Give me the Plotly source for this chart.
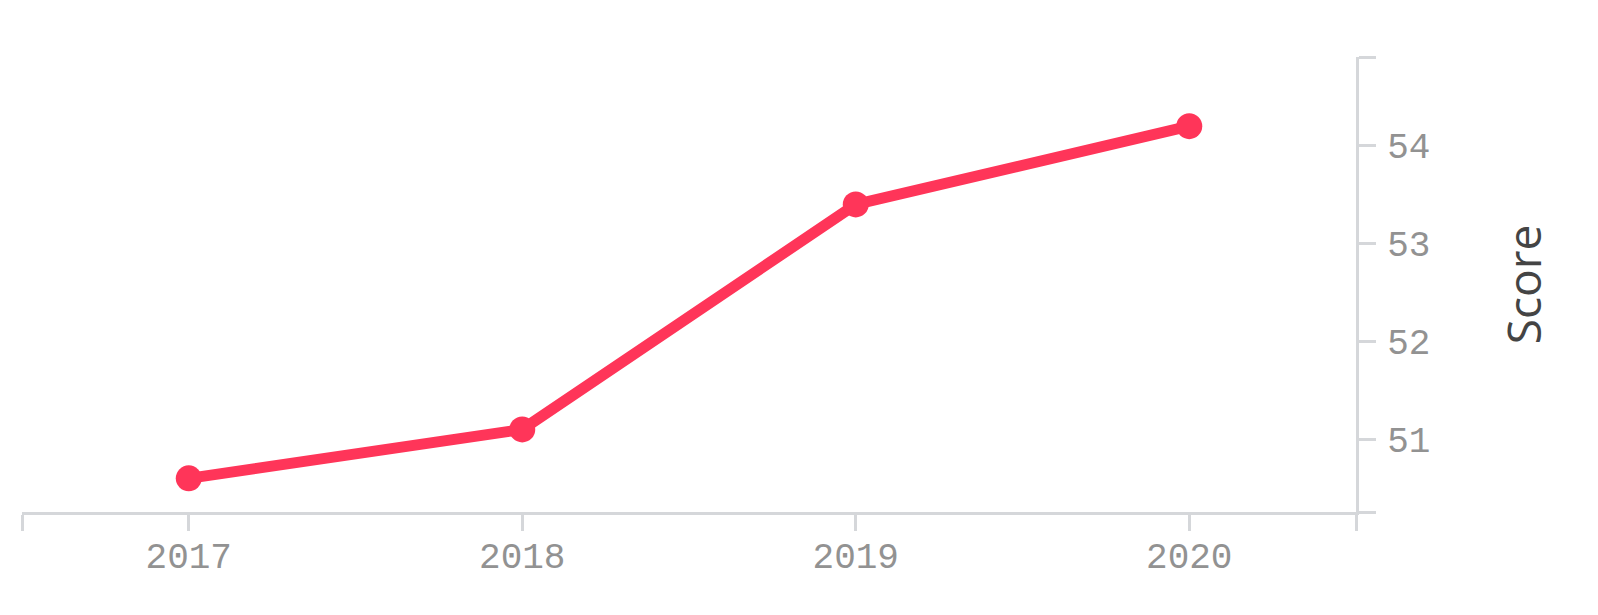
"""Score by year, line chart."""

import plotly.graph_objects as go

# data
years = [2017, 2018, 2019, 2020]
scores = [50.6, 51.1, 53.4, 54.2]

# axes
x_range = [2016.5, 2020.5]
y_range = [50.256, 54.907]
x_tickvals = [x_range[0]] + years + [x_range[1]]
x_ticktext = [""] + [str(y) for y in years] + [""]
y_ticks = [51, 52, 53, 54]
y_tickvals = [y_range[0]] + y_ticks + [y_range[1]]
y_ticktext = [""] + [str(v) for v in y_ticks] + [""]

LINE_COLOR = "#ff3559"
AXIS_COLOR = "#d5d7da"
TICK_FONT = dict(family="Liberation Mono", size=36, color="#929292")

fig = go.Figure(go.Scatter(
    x=years,
    y=scores,
    mode="lines+markers",
    line=dict(color=LINE_COLOR, width=11),
    marker=dict(color=LINE_COLOR, size=26),
    hoverinfo="x+y",
))

fig.update_xaxes(
    range=x_range,
    tickmode="array",
    tickvals=x_tickvals,
    ticktext=x_ticktext,
    ticks="outside",
    ticklen=16,
    tickwidth=2.5,
    tickcolor=AXIS_COLOR,
    showline=True,
    linecolor=AXIS_COLOR,
    linewidth=3,
    showgrid=False,
    zeroline=False,
    tickfont=TICK_FONT,
    ticklabelstandoff=-6,
)

fig.update_yaxes(
    range=y_range,
    side="right",
    tickmode="array",
    tickvals=y_tickvals,
    ticktext=y_ticktext,
    ticks="outside",
    ticklen=17,
    tickwidth=2.5,
    tickcolor=AXIS_COLOR,
    showline=True,
    linecolor=AXIS_COLOR,
    linewidth=3,
    showgrid=False,
    zeroline=False,
    tickfont=TICK_FONT,
    ticklabelstandoff=4,
    title=dict(
        text="Score",
        font=dict(family="Open Sans", size=46, color="#444444"),
        standoff=80,
    ),
)

# the page body keeps an 8px margin, so the figure is a bit smaller than the window
fig.update_layout(
    width=1582,
    height=599,
    margin=dict(l=14, r=234, t=49, b=95, autoexpand=False),
    plot_bgcolor="white",
    paper_bgcolor="white",
    showlegend=False,
)

fig.write_html("out.html")
